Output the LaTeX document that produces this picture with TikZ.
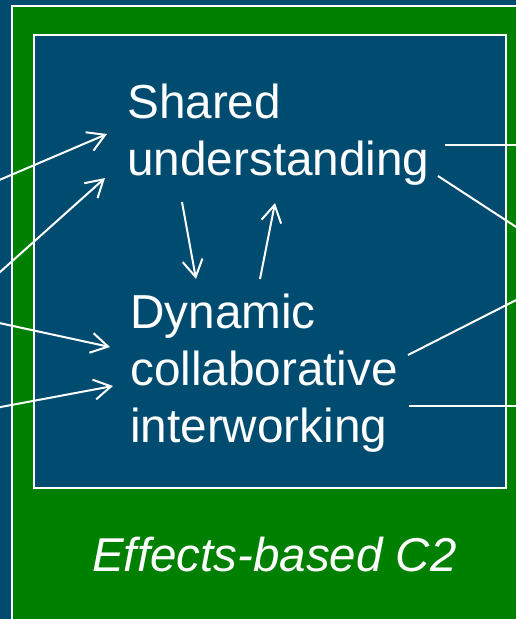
\documentclass[tikz,border=0pt]{standalone}
\usepackage{fontspec}
\setmainfont{Liberation Sans}
\usetikzlibrary{arrows.meta}
\definecolor{bgblue}{RGB}{0,75,112}
\definecolor{bggreen}{RGB}{0,128,0}
\tikzset{
  label text/.style={text=white, inner sep=0pt, anchor=base west, align=left,
    font=\fontsize{47.7}{56.8}\selectfont},
  frame line/.style={draw=white, line width=2pt},
  arrowline/.style={draw=white, line width=2pt,
    -{Straight Barb[length=17pt,width=20pt,line width=2pt]}},
  plainline/.style={draw=white, line width=2pt}
}
\begin{document}
\begin{tikzpicture}[x=1pt,y=-1pt]
\useasboundingbox (0,0) rectangle (516,619);
\clip (0,0) rectangle (516,619);
\fill[bgblue] (0,0) rectangle (516,619);
\fill[bggreen] (12,6) rectangle (530,630);
\draw[frame line] (12,630) -- (12,6) -- (530,6);
\draw[frame line, fill=bgblue] (34,35) rectangle (506,488);

\node[label text] (su) at (127,175) {Shared\\understanding};
\node[label text] (dci) at (130,442) {Dynamic\\collaborative\\interworking};
\node[label text, font=\fontsize{47.5}{57}\selectfont\itshape] (eb) at (92,571) {Effects-based C2};

% left incoming arrows
\coordinate (l1s) at (-10,184);
\coordinate (l1e) at (107,134);
\coordinate (l2s) at (-10,281);
\coordinate (l2e) at (105,178);
\coordinate (l3s) at (-10,321);
\coordinate (l3e) at (110,347);
\coordinate (l4s) at (-10,409);
\coordinate (l4e) at (113,386);
\draw[arrowline] (l1s) -- (l1e);
\draw[arrowline] (l2s) -- (l2e);
\draw[arrowline] (l3s) -- (l3e);
\draw[arrowline] (l4s) -- (l4e);

% middle arrows
\coordinate (d1) at (182,202);
\coordinate (d2) at (196,279);
\coordinate (u1) at (260,279);
\coordinate (u2) at (275,203);
\draw[arrowline] (d1) -- (d2);
\draw[arrowline] (u1) -- (u2);

% right outgoing lines
\coordinate (r1s) at (445,145);
\coordinate (r1e) at (530,145);
\coordinate (r2s) at (438,176);
\coordinate (r2e) at (530,236);
\coordinate (r3s) at (408,355);
\coordinate (r3e) at (530,293);
\coordinate (r4s) at (409,406);
\coordinate (r4e) at (530,406);
\draw[plainline] (r1s) -- (r1e);
\draw[plainline] (r2s) -- (r2e);
\draw[plainline] (r3s) -- (r3e);
\draw[plainline] (r4s) -- (r4e);
\end{tikzpicture}
\end{document}
